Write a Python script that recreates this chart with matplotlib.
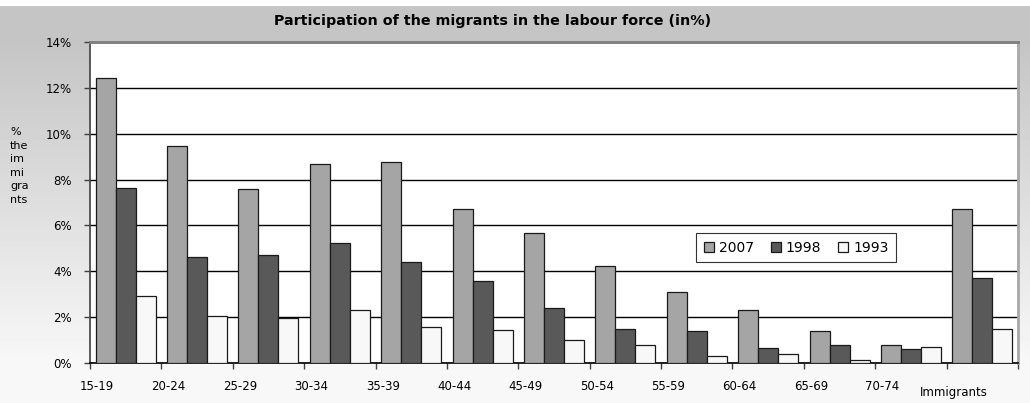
import matplotlib
matplotlib.use("Agg")
import matplotlib.pyplot as plt
import numpy as np

# age groups and the participation shares (in %) per survey year
categories = ["15-19", "20-24", "25-29", "30-34", "35-39", "40-44", "45-49",
              "50-54", "55-59", "60-64", "65-69", "70-74", "Immigrants"]
share_2007 = [12.42, 9.45, 7.57, 8.67, 8.75, 6.70, 5.65, 4.24, 3.10, 2.33, 1.38, 0.80, 6.70]
share_1998 = [7.62, 4.64, 4.71, 5.25, 4.39, 3.58, 2.38, 1.47, 1.38, 0.65, 0.80, 0.62, 3.71]
share_1993 = [2.94, 2.06, 1.95, 2.33, 1.55, 1.42, 0.99, 0.77, 0.32, 0.39, 0.14, 0.71, 1.47]
years = ["2007", "1998", "1993"]
y_ticks = [0, 2, 4, 6, 8, 10, 12, 14]

fig = plt.figure(figsize=(10.3, 4.03), dpi=100)

# grey gradient background of the whole chart
bg = fig.add_axes([0, 0, 1, 1], zorder=-10)
rows = np.linspace(0, 1, 403)
shade = np.where(rows < 0.1, 0.77, 0.77 + (rows - 0.1) / 0.8 * 0.2)
shade = np.clip(shade, 0, 0.97)
shade[:6] = 1.0
bg.imshow(np.tile(shade[:, None], (1, 10)), cmap="gray", vmin=0, vmax=1,
          aspect="auto", extent=[0, 1, 0, 1])
bg.set_xlim(0, 1)
bg.set_ylim(0, 1)
bg.axis("off")

ax = fig.add_axes([90 / 1030, 1 - 363 / 403, 928 / 1030, 321 / 403])
ax.set_facecolor("white")

x = np.arange(len(categories))
w = 0.28
colors = ["#a5a5a5", "#595959", "#f8f8f8"]
for k, vals in enumerate([share_2007, share_1998, share_1993]):
    ax.bar(x + (k - 1) * w, vals, width=w, color=colors[k], edgecolor="#1a1a1a",
           linewidth=0.9, label=years[k], zorder=3)

ax.set_xlim(-0.5, len(categories) - 0.5)
ax.set_ylim(0, 14)
ax.set_yticks(y_ticks)
ax.set_yticklabels(["%d%%" % v for v in y_ticks], fontsize=8.5)
ax.yaxis.grid(True, color="black", linewidth=1, zorder=1)
ax.tick_params(axis="y", length=4, width=1, pad=9, color="#404040")

# tick marks between groups, labels shifted left like the original
ax.set_xticks(np.arange(len(categories) + 1) - 0.5, minor=True)
ax.tick_params(axis="x", which="minor", length=4, width=1, color="#404040")
ax.set_xticks(x - 0.4)
ax.set_xticklabels(categories, fontsize=8.5)
ax.tick_params(axis="x", which="major", length=0, pad=12)
last = ax.xaxis.get_major_ticks()[-1]
last.set_pad(16.5)

ax.spines["left"].set_color("#404040")
ax.spines["left"].set_linewidth(1.2)
ax.spines["bottom"].set_color("black")
ax.spines["bottom"].set_linewidth(1.2)
ax.spines["top"].set_color("#7f7f7f")
ax.spines["top"].set_linewidth(2)
ax.spines["right"].set_color("#a8a8a8")
ax.spines["right"].set_linewidth(2)
ax.set_axisbelow(True)

leg = ax.legend(loc="upper left", bbox_to_anchor=(0.653, 0.405), borderaxespad=0,
                ncol=3, fontsize=10, frameon=True, fancybox=False, edgecolor="black",
                handlelength=0.75, handleheight=0.75, handletextpad=0.35,
                columnspacing=1.2, borderpad=0.55)
leg.get_frame().set_linewidth(0.8)

fig.text(0.478, 0.948, "Participation of the migrants in the labour force (in%)",
         ha="center", va="center", fontsize=10.3, fontweight="bold")
fig.text(10 / 1030, 1 - 127 / 403, "%\nthe\nim\nmi\ngra\nnts", ha="left", va="top",
         fontsize=8, linespacing=1.45)

fig.savefig("out.png", dpi=100)
